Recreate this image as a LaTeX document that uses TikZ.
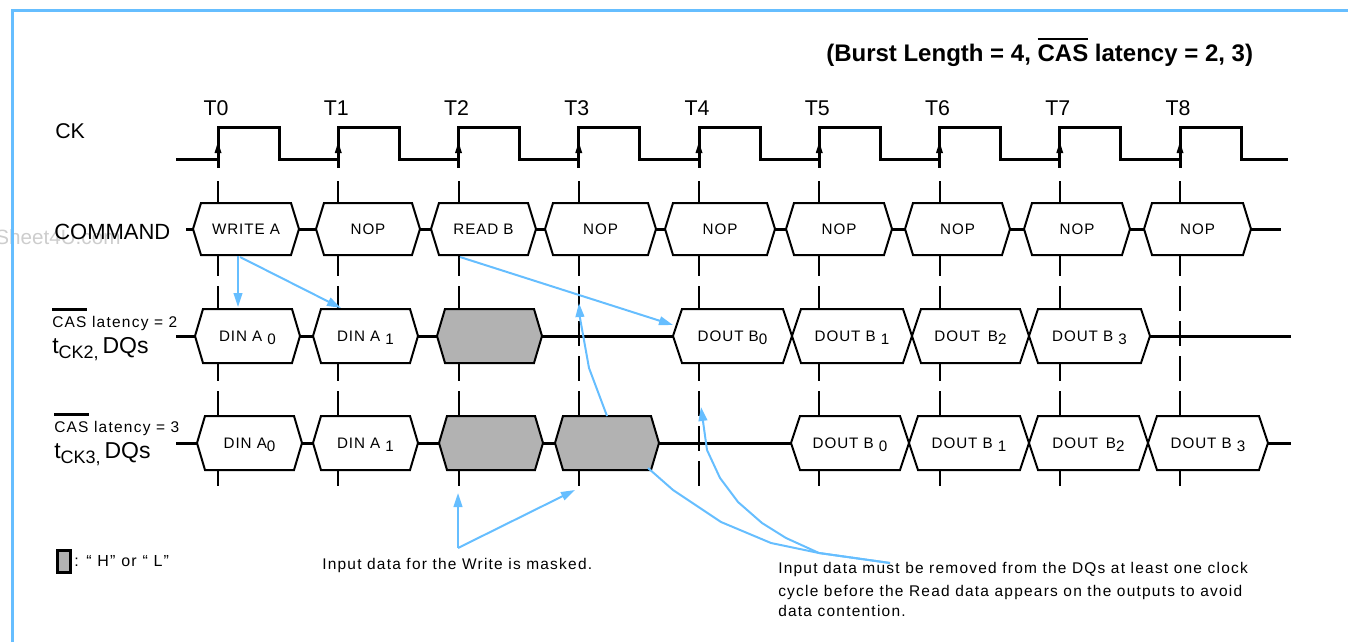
\documentclass[tikz,border=0pt]{standalone}
\usepackage{fontspec}
\setmainfont{Liberation Sans}
\newfontfamily\lsfont[LetterSpace=6.0]{Liberation Sans}
\newfontfamily\nfont[LetterSpace=8.0]{Liberation Sans}
\usetikzlibrary{arrows.meta}
\definecolor{lblue}{RGB}{102,190,255}
\definecolor{dgray}{RGB}{178,178,178}
\definecolor{wmark}{RGB}{205,205,205}
\newcommand\lowsub[1]{\raisebox{-0.45ex}{#1}}
\newcommand\ovbar[3]{\leavevmode\setbox0\hbox{#1}\rlap{\raisebox{#2}{\rule{\wd0}{#3}}}\box0\relax}
\tikzset{
  clk/.style={line width=2.25pt},
  sig/.style={line width=2.25pt},
  hexline/.style={line width=1.5pt},
  tline/.style={line width=1.5pt, dash pattern=on 18.75pt off 7.5pt},
  note/.style={lblue, line width=1.5pt, line join=round},
  arr/.style={note, -{Triangle[length=10.5pt,width=6.5pt]}},
  boxtext/.style={anchor=base, inner sep=0pt, font=\lsfont\fontsize{11.4pt}{13pt}\selectfont},
  biglbl/.style={anchor=base west, inner sep=0pt, font=\fontsize{16pt}{18pt}\selectfont},
  smalllbl/.style={anchor=base west, inner sep=0pt, font=\nfont\fontsize{11.6pt}{14pt}\selectfont},
}
\newcommand\hexb[8]{%
  \draw[hexline,fill=#7] (#2,#4) -- ({#2+#6},{#4-#5}) -- ({#3-#6},{#4-#5}) -- (#3,#4) -- ({#3-#6},{#4+#5}) -- ({#2+#6},{#4+#5}) -- cycle;
  \node[boxtext] (#1) at ({(#2+#3)/2},{#4+5}) {#8};}
\begin{document}
\begin{tikzpicture}[x=0.75pt,y=-0.75pt]
\useasboundingbox (0,0) rectangle (1348,642);
% watermark
\node[anchor=base west, inner sep=0pt, text=wmark, font=\fontsize{15.5pt}{18pt}\selectfont] (wm) at (-5,244) {Sheet4U.com};
% frame
\draw[lblue, line width=2.25pt] (12,642) -- (12,10.5) -- (1348,10.5);
% header
\node[anchor=base west, inner sep=0pt, font=\bfseries\fontsize{18pt}{20pt}\selectfont] (hdr) at (826,61) {(Burst Length = 4, \ovbar{CAS}{15.6pt}{1.9pt} latency = 2, 3)};
% left labels
\node[biglbl] (ck) at (55,138) {CK};
\node[biglbl, font=\fontsize{16.5pt}{18pt}\selectfont] (cmd) at (54,239) {COMMAND};
\node[smalllbl] (cas2) at (52,327) {\ovbar{CAS}{12pt}{2.1pt} latency = 2};
\node[anchor=base west, inner sep=0pt, font=\fontsize{17.25pt}{18pt}\selectfont] (dq2) at (52,353) {t\raisebox{-4pt}{\fontsize{13.5pt}{14pt}\selectfont CK2,}\,DQs};
\node[smalllbl] (cas3) at (54,432) {\ovbar{CAS}{12pt}{2.1pt} latency = 3};
\node[anchor=base west, inner sep=0pt, font=\fontsize{17.25pt}{18pt}\selectfont] (dq3) at (54,458) {t\raisebox{-4pt}{\fontsize{13.5pt}{14pt}\selectfont CK3,}\,DQs};
% T labels and dashed lines
\foreach \i in {0,...,8} {
  \node[biglbl, anchor=base] (lT\i) at ({216+120.25*\i},115) {T\i};
  \draw[tline] ({218+120.25*\i},181) -- ({218+120.25*\i},486);
}
% clock
\draw[clk] (176,159) foreach \i in {0,...,8} { -- ({218+120.25*\i},159) -- ({218+120.25*\i},127) -- ({279+120.25*\i},127) -- ({279+120.25*\i},159) } -- (1288,159);
\foreach \i in {0,...,8} {
  \draw[clk] ({218+120.25*\i},158) -- ({218+120.25*\i},168);
  \fill ({218+120.25*\i-3.5},153) -- ({218+120.25*\i},142) -- ({218+120.25*\i+3.5},153) -- cycle;
}
% row lines
\draw[sig] (186,229) -- (1281,229);
\draw[sig] (176,336) -- (1291,336);
\draw[sig] (176,443) -- (1291,443);
% command boxes
\hexb{c0}{193}{299}{229}{26}{8}{white}{WRITE A}
\hexb{c1}{316}{420}{229}{26}{8}{white}{NOP}
\hexb{c2}{431}{536}{229}{26}{8}{white}{READ B}
\hexb{c3}{545}{656}{229}{26}{8}{white}{NOP}
\hexb{c4}{665}{775}{229}{26}{8}{white}{NOP}
\hexb{c5}{786}{892}{229}{26}{8}{white}{NOP}
\hexb{c6}{905}{1010}{229}{26}{8}{white}{NOP}
\hexb{c7}{1024}{1130}{229}{26}{8}{white}{NOP}
\hexb{c8}{1144}{1251}{229}{26}{8}{white}{NOP}
% DQ CL=2
\hexb{a0}{195}{300}{336}{27}{8}{white}{DIN A \lowsub{0}}
\hexb{a1}{313}{418}{336}{27}{8}{white}{DIN A \lowsub{1}}
\hexb{g0}{437}{542}{336}{27}{8}{dgray}{}
\hexb{b0}{673}{792}{336}{27}{9}{white}{DOUT B\lowsub{0}}
\hexb{b1}{792}{912}{336}{27}{9}{white}{DOUT B \lowsub{1}}
\hexb{b2}{912}{1029}{336}{27}{9}{white}{DOUT\, B\lowsub{2}}
\hexb{b3}{1029}{1150}{336}{27}{9}{white}{DOUT B \lowsub{3}}
% DQ CL=3
\hexb{A0}{197}{302}{443}{27}{8}{white}{DIN A\lowsub{0}}
\hexb{A1}{313}{418}{443}{27}{8}{white}{DIN A \lowsub{1}}
\hexb{G0}{439}{543}{443}{27}{8}{dgray}{}
\hexb{G1}{555}{659}{443}{27}{8}{dgray}{}
\hexb{B0}{791}{909}{443}{27}{9}{white}{DOUT B \lowsub{0}}
\hexb{B1}{909}{1029}{443}{27}{9}{white}{DOUT B \lowsub{1}}
\hexb{B2}{1029}{1148}{443}{27}{9}{white}{DOUT\, B\lowsub{2}}
\hexb{B3}{1148}{1268}{443}{27}{9}{white}{DOUT B \lowsub{3}}
% legend
\draw[line width=2.25pt, fill=dgray] (57,550) rectangle (70,572);
\node[anchor=base west, inner sep=0pt, font=\nfont\fontsize{12pt}{13pt}\selectfont] (leg) at (74,566) {: “ H” or “ L”};
% notes
\node[smalllbl] (n1) at (322,569) {Input data for the Write is masked.};
\node[smalllbl] (n2a) at (778,573) {Input data must be removed from the DQs at least one clock};
\node[smalllbl] (n2b) at (778,596) {cycle before the Read data appears on the outputs to avoid};
\node[smalllbl] (n2c) at (778,616) {data contention.};
% blue arrows
\coordinate (wr1) at (238,256); \coordinate (din0) at (238,307);
\coordinate (wr2) at (240,257); \coordinate (din1) at (341,308);
\coordinate (rd) at (460,257); \coordinate (dout0) at (673,325);
\coordinate (g1top) at (607,416); \coordinate (t3tip) at (579,303);
\coordinate (g1bot) at (648,468); \coordinate (meet) at (890,563); \coordinate (t4tip) at (701,407);
\coordinate (mk) at (458,548); \coordinate (mk1) at (458,493); \coordinate (mk2) at (575,490);
\draw[arr] (wr1) -- (din0);
\draw[arr] (wr2) -- (din1);
\draw[arr] (rd) -- (dout0);
\draw[arr] (g1top) -- (589,368) -- (580,318) -- (t3tip);
\draw[note] (g1bot) -- (673,490) -- (721,522) -- (771,543) -- (819,553) -- (meet);
\draw[arr] (meet) -- (819,553) -- (786,538) -- (762,523) -- (738,502) -- (720,478) -- (707,450) -- (t4tip);
\draw[arr] (mk) -- (mk1);
\draw[arr] (mk) -- (mk2);
\end{tikzpicture}
\end{document}
